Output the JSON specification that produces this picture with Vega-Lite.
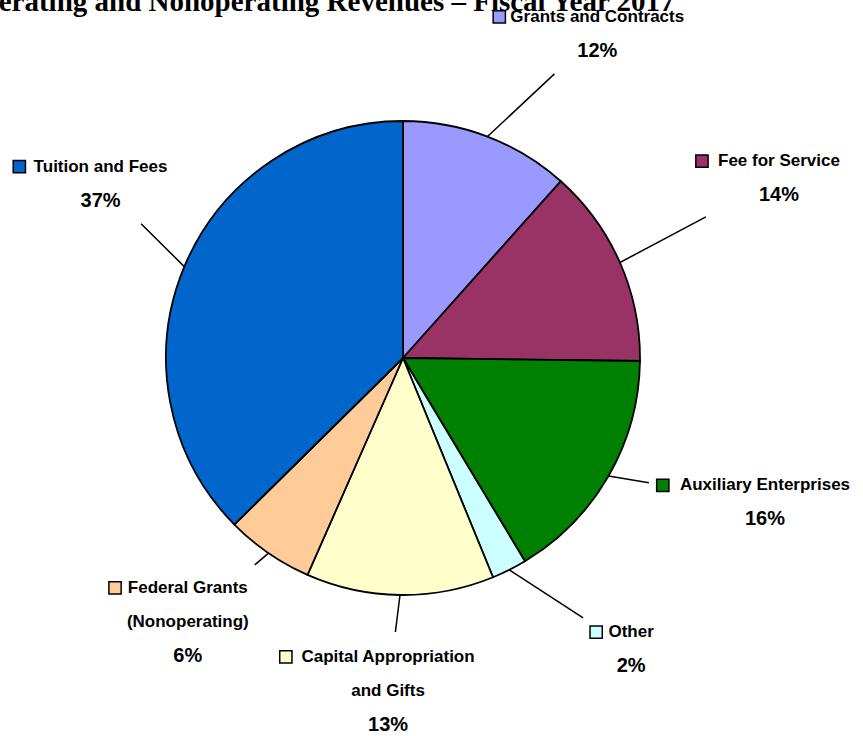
{
  "$schema": "https://vega.github.io/schema/vega-lite/v6.json",
  "width": 863,
  "height": 736,
  "padding": 0,
  "autosize": {"type": "none"},
  "background": "white",
  "config": {"view": {"stroke": null}},
  "title": {
    "text": "Operating and Nonoperating Revenues – Fiscal Year 2017",
    "font": "Liberation Serif",
    "fontSize": 29,
    "fontWeight": "bold",
    "color": "black",
    "anchor": "start",
    "frame": "group",
    "orient": "top",
    "offset": 0,
    "baseline": "alphabetic",
    "dx": -40,
    "dy": 40
  },
  "data": {
    "values": [
      {"order": 1, "category": "Grants and Contracts", "value": 11.6, "line1": "Grants and Contracts", "line2": ""},
      {"order": 2, "category": "Fee for Service", "value": 13.6, "line1": "Fee for Service", "line2": ""},
      {"order": 3, "category": "Auxiliary Enterprises", "value": 16.2, "line1": "Auxiliary Enterprises", "line2": ""},
      {"order": 4, "category": "Other", "value": 2.4, "line1": "Other", "line2": ""},
      {"order": 5, "category": "Capital Appropriation and Gifts", "value": 12.8, "line1": "Capital Appropriation", "line2": "and Gifts"},
      {"order": 6, "category": "Federal Grants (Nonoperating)", "value": 6.0, "line1": "Federal Grants", "line2": "(Nonoperating)"},
      {"order": 7, "category": "Tuition and Fees", "value": 37.4, "line1": "Tuition and Fees", "line2": ""}
    ]
  },
  "transform": [
    {"joinaggregate": [{"op": "sum", "field": "value", "as": "total"}]},
    {"window": [{"op": "sum", "field": "value", "as": "cum"}], "sort": [{"field": "order", "order": "ascending"}], "frame": [null, 0]},
    {"calculate": "2 * PI * (datum.cum - datum.value / 2) / datum.total", "as": "ang"},
    {"calculate": "sin(datum.ang)", "as": "s"},
    {"calculate": "cos(datum.ang)", "as": "c"},
    {"calculate": "(datum.s < 0 ? -320 : 400) * pow(abs(datum.s), 0.7)", "as": "lx"},
    {"calculate": "datum.c < 0 ? 333 * pow(abs(datum.c), 1.2) : -340 * pow(abs(datum.c), 0.7)", "as": "ly"},
    {"calculate": "datum.line2 != '' ? 3 : 2", "as": "nLines"},
    {"calculate": "length(datum.line1) * 8.4", "as": "w1"},
    {"calculate": "datum.line2 != '' ? datum.line1 + '\\n' + datum.line2 : datum.line1", "as": "nameText"},
    {"calculate": "format(datum.value / datum.total, '.0%')", "as": "pctText"},
    {"calculate": "datum.ly - (datum.nLines - 1) * 17", "as": "yTop"},
    {"calculate": "datum.ly + (datum.nLines - 1) * 17", "as": "yPct"},
    {"calculate": "datum.lx - datum.w1 / 2 - 14", "as": "sqx"},
    {"calculate": "237 * datum.s", "as": "ex"},
    {"calculate": "-237 * datum.c", "as": "ey"},
    {"calculate": "sqrt(pow(datum.lx - datum.ex, 2) + pow(datum.ly - datum.ey, 2))", "as": "L"},
    {"calculate": "(datum.lx - datum.ex) / datum.L", "as": "ux"},
    {"calculate": "(datum.ly - datum.ey) / datum.L", "as": "uy"},
    {"calculate": "min((datum.w1 / 2 + (datum.ux > 0 ? 22 : 4)) / max(abs(datum.ux), 0.001), (datum.nLines * 17 + 2) / max(abs(datum.uy), 0.001)) + 6", "as": "tcut"},
    {"calculate": "datum.lx - datum.ux * datum.tcut", "as": "lineX2"},
    {"calculate": "datum.ly - datum.uy * datum.tcut", "as": "lineY2"}
  ],
  "layer": [
    {
      "mark": {"type": "arc", "outerRadius": 237, "stroke": "black", "strokeWidth": 1.8},
      "encoding": {
        "theta": {"field": "value", "type": "quantitative", "stack": true},
        "order": {"field": "order", "type": "quantitative", "sort": "ascending"},
        "color": {
          "field": "category",
          "type": "nominal",
          "legend": null,
          "scale": {
            "domain": ["Grants and Contracts", "Fee for Service", "Auxiliary Enterprises", "Other", "Capital Appropriation and Gifts", "Federal Grants (Nonoperating)", "Tuition and Fees"],
            "range": ["#9999FF", "#993366", "#008000", "#CCFFFF", "#FFFFCC", "#FFCC99", "#0066CC"]
          }
        },
        "x": {"datum": 0, "type": "quantitative", "axis": null, "scale": {"domain": [-403, 460], "nice": false, "zero": false}},
        "y": {"datum": 0, "type": "quantitative", "axis": null, "scale": {"domain": [-358, 378], "nice": false, "zero": false, "reverse": true}}
      }
    },
    {
      "mark": {"type": "rule", "stroke": "black", "strokeWidth": 1.5},
      "encoding": {
        "x": {"field": "ex", "type": "quantitative", "axis": null, "scale": {"domain": [-403, 460], "nice": false, "zero": false}},
        "y": {"field": "ey", "type": "quantitative", "axis": null, "scale": {"domain": [-358, 378], "nice": false, "zero": false, "reverse": true}},
        "x2": {"field": "lineX2"},
        "y2": {"field": "lineY2"}
      }
    },
    {
      "mark": {"type": "text", "align": "center", "baseline": "middle", "font": "Liberation Sans", "fontWeight": "bold", "fontSize": 17, "lineHeight": 34, "lineBreak": "\n", "color": "black"},
      "encoding": {
        "x": {"field": "lx", "type": "quantitative", "axis": null, "scale": {"domain": [-403, 460], "nice": false, "zero": false}},
        "y": {"field": "yTop", "type": "quantitative", "axis": null, "scale": {"domain": [-358, 378], "nice": false, "zero": false, "reverse": true}},
        "text": {"field": "nameText", "type": "nominal"}
      }
    },
    {
      "mark": {"type": "text", "align": "center", "baseline": "middle", "font": "Liberation Sans", "fontWeight": "bold", "fontSize": 20, "color": "black"},
      "encoding": {
        "x": {"field": "lx", "type": "quantitative", "axis": null, "scale": {"domain": [-403, 460], "nice": false, "zero": false}},
        "y": {"field": "yPct", "type": "quantitative", "axis": null, "scale": {"domain": [-358, 378], "nice": false, "zero": false, "reverse": true}},
        "text": {"field": "pctText", "type": "nominal"}
      }
    },
    {
      "mark": {"type": "point", "shape": "square", "filled": true, "size": 150, "stroke": "black", "strokeWidth": 1.5, "opacity": 1},
      "encoding": {
        "x": {"field": "sqx", "type": "quantitative", "axis": null, "scale": {"domain": [-403, 460], "nice": false, "zero": false}},
        "y": {"field": "yTop", "type": "quantitative", "axis": null, "scale": {"domain": [-358, 378], "nice": false, "zero": false, "reverse": true}},
        "fill": {
          "field": "category",
          "type": "nominal",
          "legend": null,
          "scale": {
            "domain": ["Grants and Contracts", "Fee for Service", "Auxiliary Enterprises", "Other", "Capital Appropriation and Gifts", "Federal Grants (Nonoperating)", "Tuition and Fees"],
            "range": ["#9999FF", "#993366", "#008000", "#CCFFFF", "#FFFFCC", "#FFCC99", "#0066CC"]
          }
        }
      }
    }
  ]
}
